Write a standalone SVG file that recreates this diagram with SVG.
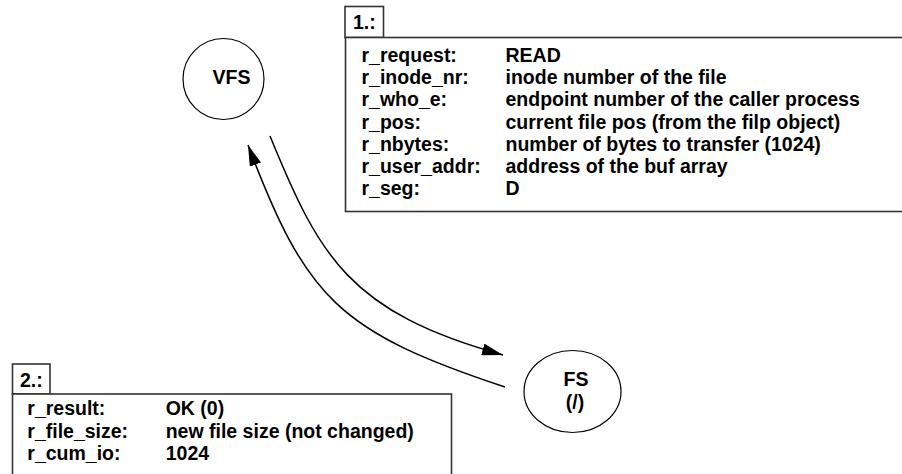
<svg xmlns="http://www.w3.org/2000/svg" width="902" height="474" viewBox="0 0 902 474">
<style>
text{font-family:"Liberation Sans",Arial,Helvetica,sans-serif;font-weight:bold;font-size:19.5px;fill:#000}
.box{fill:#fff;stroke:#333;stroke-width:1.6}
.node{fill:#fff;stroke:#000;stroke-width:1.2}
.conn{fill:none;stroke:#000;stroke-width:1.5}
.mid{text-anchor:middle}
</style>
<defs>
<marker id="ah" markerUnits="userSpaceOnUse" markerWidth="22" markerHeight="12" refX="21" refY="6" orient="auto">
<path d="M0,0 L21,6 L0,12 z" fill="#000"/>
</marker>
</defs>
<rect width="902" height="474" fill="#fff"/>
<g id="connectors">
<path class="conn" d="M270,136 C319.3,256.4 348.8,312.3 503,355" marker-end="url(#ah)"/>
<path class="conn" d="M505,387 C338.9,331.7 306.4,299.3 248,145" marker-end="url(#ah)"/>
</g>
<g id="vfs">
<circle class="node" cx="223.5" cy="79" r="40.5"/>
<text class="mid" x="231.5" y="83.5">VFS</text>
</g>
<g id="fs">
<ellipse class="node" cx="572.5" cy="391.5" rx="48.5" ry="41"/>
<text class="mid" x="576" y="386">FS</text>
<text class="mid" x="575" y="409">(/)</text>
</g>
<g id="msg1">
<rect class="box" x="345" y="6.5" width="38.5" height="31"/>
<rect class="box" x="345.5" y="37.5" width="580" height="174"/>
<text x="353" y="28.5">1.:</text>
<text x="361.5" y="62">r_request:</text><text x="505.5" y="62">READ</text>
<text x="361.5" y="84.2">r_inode_nr:</text><text x="505.5" y="84.2">inode number of the file</text>
<text x="361.5" y="106.4">r_who_e:</text><text x="505.5" y="106.4">endpoint number of the caller process</text>
<text x="361.5" y="128.6">r_pos:</text><text x="505.5" y="128.6">current file pos (from the filp object)</text>
<text x="361.5" y="150.8">r_nbytes:</text><text x="505.5" y="150.8">number of bytes to transfer (1024)</text>
<text x="361.5" y="173">r_user_addr:</text><text x="505.5" y="173">address of the buf array</text>
<text x="361.5" y="195.2">r_seg:</text><text x="505.5" y="195.2">D</text>
</g>
<g id="msg2">
<rect class="box" x="12.5" y="364" width="37.5" height="30"/>
<rect class="box" x="12.5" y="394" width="439" height="100"/>
<text x="20" y="387">2.:</text>
<text x="27.3" y="415.3">r_result:</text><text x="165.7" y="415.3">OK (0)</text>
<text x="27.3" y="437.5">r_file_size:</text><text x="165.7" y="437.5">new file size (not changed)</text>
<text x="27.3" y="459.7">r_cum_io:</text><text x="165.7" y="459.7">1024</text>
</g>
</svg>
